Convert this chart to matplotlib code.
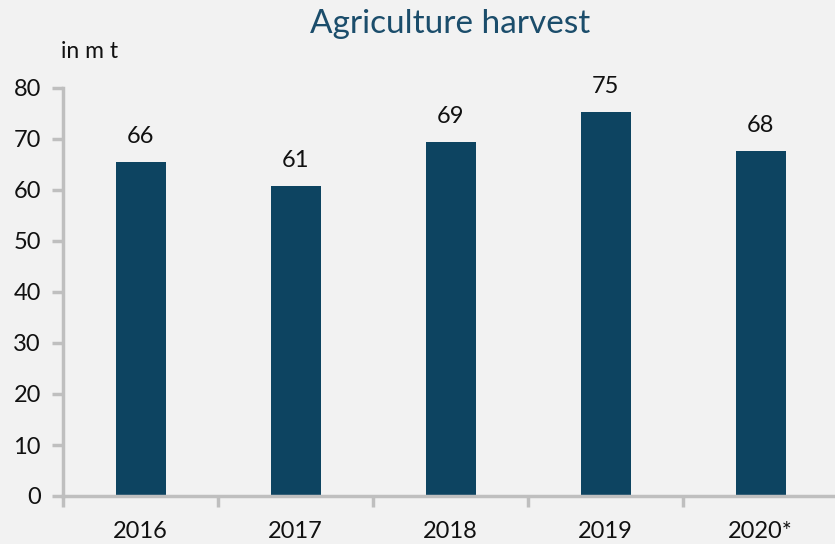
import matplotlib
matplotlib.use("Agg")
import matplotlib.pyplot as plt

# Harvest volumes in million tonnes
years = ["2016", "2017", "2018", "2019", "2020*"]
harvest = [65.5, 60.8, 69.4, 75.2, 67.6]
y_ticks = [0, 10, 20, 30, 40, 50, 60, 70, 80]

bg = "#F2F2F2"
bar_color = "#0D4461"
axis_color = "#BFBFBF"
title_color = "#1B4D6B"

plt.rcParams["font.family"] = ["Lato", "DejaVu Sans"]

fig = plt.figure(figsize=(8.35, 5.44), dpi=100, facecolor=bg)
# axes spans slightly beyond the right edge of the canvas
ax = fig.add_axes([63 / 835, 1 - 496 / 544, 775 / 835, 408 / 544], facecolor=bg)

x = list(range(len(years)))
ax.bar(x, harvest, width=50 / 155, color=bar_color, zorder=2)

for xi, v in zip(x, harvest):
    ax.text(xi, v + 3.0, f"{v:.0f}", ha="center", va="bottom", fontsize=17, color="#111111")

ax.set_xlim(-0.5, len(years) - 0.5)
ax.set_ylim(0, 80)
ax.set_yticks(y_ticks)
ax.set_yticklabels([str(t) for t in y_ticks], fontsize=17, color="#111111")

# category labels centred under bars, ticks at category boundaries
ax.set_xticks([i - 0.5 for i in range(len(years) + 1)])
ax.set_xticklabels([])
ax.set_xticks(x, minor=True)
ax.set_xticklabels(years, minor=True, fontsize=17, color="#111111")
ax.tick_params(axis="x", which="minor", length=0, pad=18)
ax.tick_params(axis="x", which="major", length=8, width=2.5, color=axis_color, direction="out")
ax.tick_params(axis="y", length=8, width=2.5, color=axis_color, direction="out", pad=8)

for side in ["top", "right"]:
    ax.spines[side].set_visible(False)
for side in ["left", "bottom"]:
    ax.spines[side].set_color(axis_color)
    ax.spines[side].set_linewidth(2.5)

fig.text(450 / 835, 1 - 24 / 544, "Agriculture harvest", ha="center", va="center",
         fontsize=24, color=title_color)
fig.text(61 / 835, 1 - 51 / 544, "in m t", ha="left", va="center", fontsize=16.5, color="#111111")

fig.savefig("out.png", dpi=100, facecolor=bg)
